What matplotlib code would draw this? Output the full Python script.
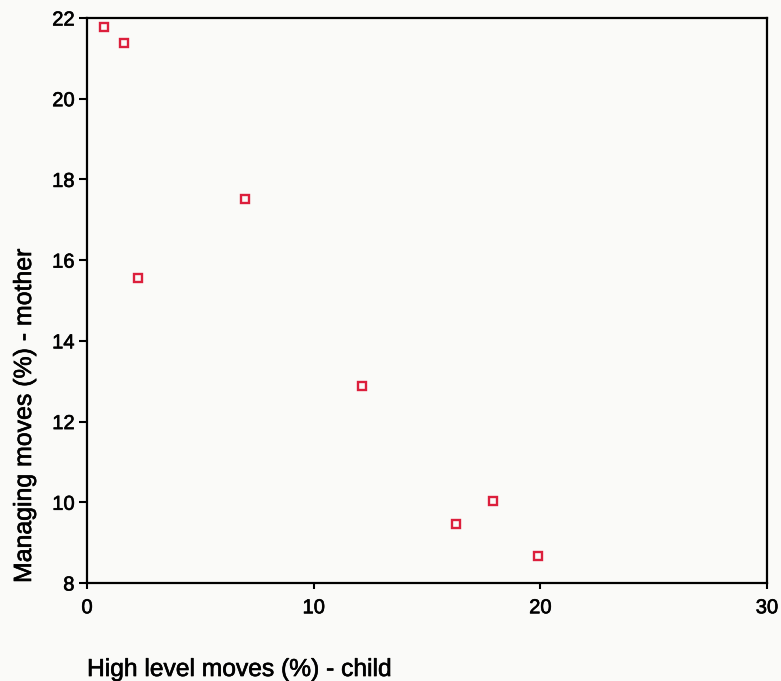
import numpy as np
import matplotlib.pyplot as plt
import matplotlib.patheffects as pe

# high level moves by the child vs managing moves by the mother (%)
child_high = [0.75, 1.65, 2.25, 6.95, 12.15, 16.3, 17.9, 19.9]
mother_managing = [21.78, 21.38, 15.56, 17.52, 12.87, 9.45, 10.02, 8.66]

plt.rcParams['font.family'] = ['Liberation Sans', 'DejaVu Sans']
bg = '#fafaf8'
heavy = [pe.withStroke(linewidth=0.45, foreground='black')]

fig = plt.figure(figsize=(7.81, 6.81), dpi=100, facecolor=bg)
ax = fig.add_axes([0.1114, 0.1439, 0.8706, 0.8297], facecolor=bg)

ax.plot(child_high, mother_managing, ls='none', marker='s', ms=5.3,
        mfc='none', mec='#dc1f3c', mew=1.7)

ax.set_xlim(0, 30)
ax.set_ylim(8, 22)
ax.set_xticks([0, 10, 20, 30])
ax.set_yticks(np.arange(8, 23, 2))
ax.tick_params(direction='out', width=1.5, labelsize=14.5, colors='black')
ax.tick_params(axis='x', length=4, pad=7)
ax.tick_params(axis='y', length=6, pad=3)
for s in ax.spines.values():
    s.set_linewidth(1.6)
    s.set_color('black')

ax.set_xlabel('High level moves (%) - child', fontsize=17.7, loc='left')
ax.xaxis.set_label_coords(0.0, -0.131)
ax.set_ylabel('Managing moves (%) - mother', fontsize=17.9, loc='bottom')
ax.yaxis.set_label_coords(-0.075, 0.0)

# slightly heavier strokes on all the text
for t in ax.get_xticklabels() + ax.get_yticklabels():
    t.set_path_effects(heavy)
ax.xaxis.label.set_path_effects(heavy)
ax.yaxis.label.set_path_effects(heavy)

fig.savefig('out.png', dpi=100, facecolor=bg)
